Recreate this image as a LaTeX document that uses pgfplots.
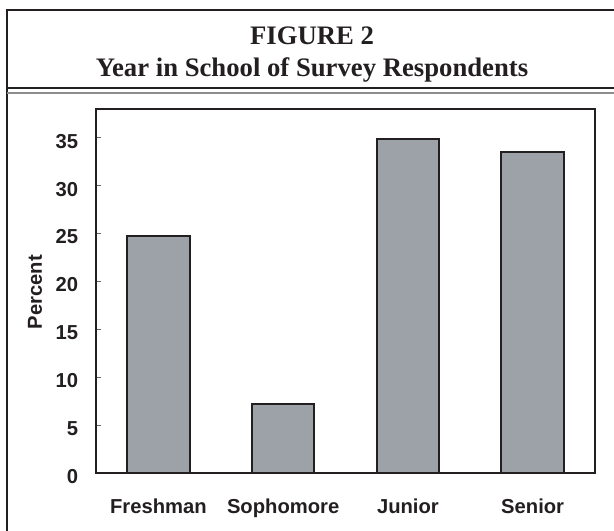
\documentclass[border=0pt]{standalone}
\usepackage{fontspec}
\setmainfont{Liberation Sans}
\newfontfamily\titlefont{Liberation Serif}
\usepackage{pgfplots}
\pgfplotsset{compat=1.18}
\definecolor{barfill}{HTML}{9CA2A8}
\definecolor{ink}{HTML}{231F20}
\begin{document}
\begin{tikzpicture}
\begin{scope}[x=0.5pt,y=-0.5pt]
\useasboundingbox (0,0) rectangle (614,530);
\draw[ink, line width=0.75pt] (7,560) -- (7,10) -- (640,10);
\draw[ink, line width=0.6pt] (7,88) -- (640,88);
\draw[black!45, line width=1pt] (7,93) -- (640,93);
\node[anchor=base, inner sep=0pt, font=\titlefont\bfseries\fontsize{13.35}{16}\selectfont, text=ink] at (312,44) {FIGURE 2};
\node[anchor=base, inner sep=0pt, font=\titlefont\bfseries\fontsize{13.35}{16}\selectfont, text=ink] at (312,76) {Year in School of Survey Respondents};
\end{scope}
\begin{axis}[
  at={(48pt,-236.5pt)}, anchor=south west,
  scale only axis, width=249.5pt, height=182pt,
  xmin=-0.5, xmax=3.5, ymin=0, ymax=38,
  xtick={0,1,2,3}, xticklabels={Freshman,Sophomore,Junior,Senior},
  ytick={0,5,10,15,20,25,30,35},
  ytick pos=left,
  tick align=inside,
  major tick length=2.5pt,
  xtick style={draw=none},
  ytick style={black!60, line width=0.6pt},
  axis line style={ink, line width=1pt},
  /pgf/number format/assume math mode=true,
  ticklabel style={font=\bfseries\fontsize{10.1}{12}\selectfont, text=ink},
  xticklabel style={yshift=-9.5pt},
  yticklabel style={xshift=-5.4pt, yshift=-1.75pt},
  ylabel={Percent},
  ylabel style={at={(axis description cs:-0.1222,0.497)}, anchor=center, font=\bfseries\fontsize{10.1}{12}\selectfont, text=ink},
]
\addplot[ybar, bar width=0.5, fill=barfill, draw=ink, line width=1pt] coordinates {(0,24.7) (1,7.2) (2,34.9) (3,33.5)};
\end{axis}
\end{tikzpicture}
\end{document}
